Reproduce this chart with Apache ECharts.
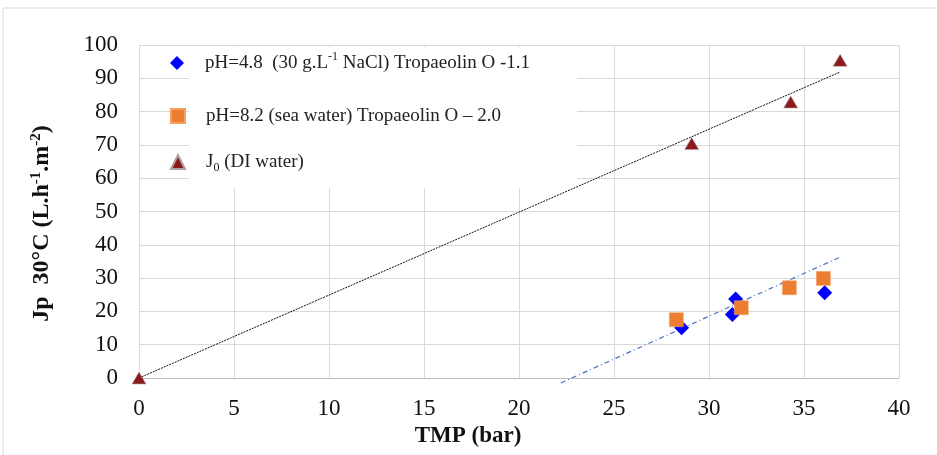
<!doctype html>
<html lang="en">
<head>
    <meta charset="utf-8">
    <title>Jp vs TMP</title>
    <style>
        html, body { margin: 0; padding: 0; background: #fff; }
        #chart { width: 937px; height: 455px; }
    </style>
</head>
<body>
    <div id="chart"></div>
    <script src="https://cdn.jsdelivr.net/npm/echarts@6/dist/echarts.min.js"></script>
    <script>
        // TMP (bar), Jp (L.h-1.m-2)
        const ph48 = [[28.56, 15.1], [31.23, 19.1], [31.4, 23.7], [36.09, 25.6]];
        const ph82 = [[28.28, 17.5], [31.7, 21.1], [34.23, 27.1], [36.02, 29.9]];
        const j0 = [[0, 0], [29.09, 70.4], [34.3, 82.9], [36.9, 95.4]];
        // trend lines (end points)
        const trendJ0 = [[0, 0], [36.9, 91.9]];
        const trendBlue = [[22.2, -1.5], [36.98, 36.5]];

        const names = ['ph48', 'ph82', 'j0'];
        const legendLabels = {
            ph48: '{sp|}{n|pH=4.8  (30 g.L}{sup|-1}{n| NaCl) Tropaeolin O -1.1}',
            ph82: '{sp|}{n|pH=8.2 (sea water) Tropaeolin O \u2013 2.0}',
            j0: '{sp|}{n|J}{sub|0}{n| (DI water)}'
        };
        const legendTops = [51, 104, 150];

        const serif = '"Liberation Serif", "Times New Roman", serif';
        const gridColor = '#d9d9d9';

        let myChart = echarts.init(document.getElementById('chart'));

        let legends = names.map(function (n, i) {
            return {
                data: [n],
                orient: 'vertical',
                left: 170,
                top: legendTops[i],
                padding: 0,
                itemWidth: 14,
                itemHeight: 14,
                selectedMode: false,
                formatter: function (name) { return legendLabels[name]; },
                textStyle: {
                    fontFamily: serif,
                    fontSize: 19,
                    color: '#222',
                    lineHeight: 24,
                    rich: {
                        sp: { width: 16 },
                        n: { fontFamily: serif, fontSize: 19, color: '#222' },
                        sup: { fontFamily: serif, fontSize: 12, color: '#222', verticalAlign: 'top', padding: [0, 0, 9, 0] },
                        sub: { fontFamily: serif, fontSize: 12, color: '#222', verticalAlign: 'bottom', padding: [9, 0, 0, 0] }
                    }
                }
            };
        });

        let option = {
            animation: false,
            backgroundColor: '#fff',
            graphic: [
                {
                    type: 'rect', z: 0,
                    shape: { x: 3, y: 8, width: 1000, height: 1000 },
                    style: { fill: 'none', stroke: '#d9d9d9', lineWidth: 1 }
                },
                {
                    type: 'rect', z: 1,
                    shape: { x: 189, y: 47, width: 388, height: 141 },
                    style: { fill: '#fff' }
                }
            ],
            legend: legends,
            grid: { left: 139, right: 38, top: 45, bottom: 77 },
            xAxis: {
                type: 'value',
                min: 0, max: 40, interval: 5,
                name: 'TMP (bar)',
                nameLocation: 'middle',
                nameGap: 47,
                nameTextStyle: { fontFamily: serif, fontSize: 23, fontWeight: 'bold', color: '#111', padding: [0, 102, 0, 0] },
                axisLine: { show: true, lineStyle: { color: '#bfbfbf', width: 1 } },
                axisTick: { show: false },
                axisLabel: { fontFamily: serif, fontSize: 23, color: '#111', margin: 19 },
                splitLine: { show: true, lineStyle: { color: gridColor, width: 1 } }
            },
            yAxis: {
                type: 'value',
                min: 0, max: 100, interval: 10,
                name: '{b|Jp  30\u00b0C (L.h}{sup|-1}{b|.m}{sup|-2}{b|)}',
                nameLocation: 'middle',
                nameRotate: 90,
                nameGap: 84,
                nameTextStyle: {
                    fontFamily: serif, fontSize: 24, fontWeight: 'bold', color: '#111',
                    padding: [0, 24, 0, 0],
                    rich: {
                        b: { fontFamily: serif, fontSize: 24, fontWeight: 'bold', color: '#111' },
                        sup: { fontFamily: serif, fontSize: 15, fontWeight: 'bold', color: '#111', verticalAlign: 'top', padding: [0, 0, 11, 0] }
                    }
                },
                axisLine: { show: false },
                axisTick: { show: false },
                axisLabel: { fontFamily: serif, fontSize: 23, color: '#111', margin: 21 },
                splitLine: { show: true, lineStyle: { color: gridColor, width: 1 } }
            },
            series: [
                {
                    name: 'trendJ0', type: 'line', data: trendJ0,
                    symbol: 'none', silent: true, z: 2,
                    lineStyle: { color: '#111', width: 1, type: [2, 1] }
                },
                {
                    name: 'trendBlue', type: 'line', data: trendBlue,
                    symbol: 'none', silent: true, clip: false, z: 2,
                    lineStyle: { color: '#4472c4', width: 1.2, type: [5, 3, 1, 3] }
                },
                {
                    name: 'ph48', type: 'scatter', data: ph48,
                    symbol: 'diamond', symbolSize: 15, z: 3,
                    itemStyle: { color: '#0000ff', opacity: 1 }
                },
                {
                    name: 'ph82', type: 'scatter', data: ph82,
                    symbol: 'rect', symbolSize: 14, z: 3,
                    itemStyle: { color: '#ed7d31', borderColor: '#f4a060', borderWidth: 0.5, opacity: 1 }
                },
                {
                    name: 'j0', type: 'scatter', data: j0,
                    symbol: 'triangle', symbolSize: [14, 12], z: 3,
                    itemStyle: { color: '#8b1a1a', borderColor: '#b0a0a0', borderWidth: 0.6, opacity: 1 }
                }
            ]
        };

        myChart.setOption(option);
    </script>
</body>
</html>
